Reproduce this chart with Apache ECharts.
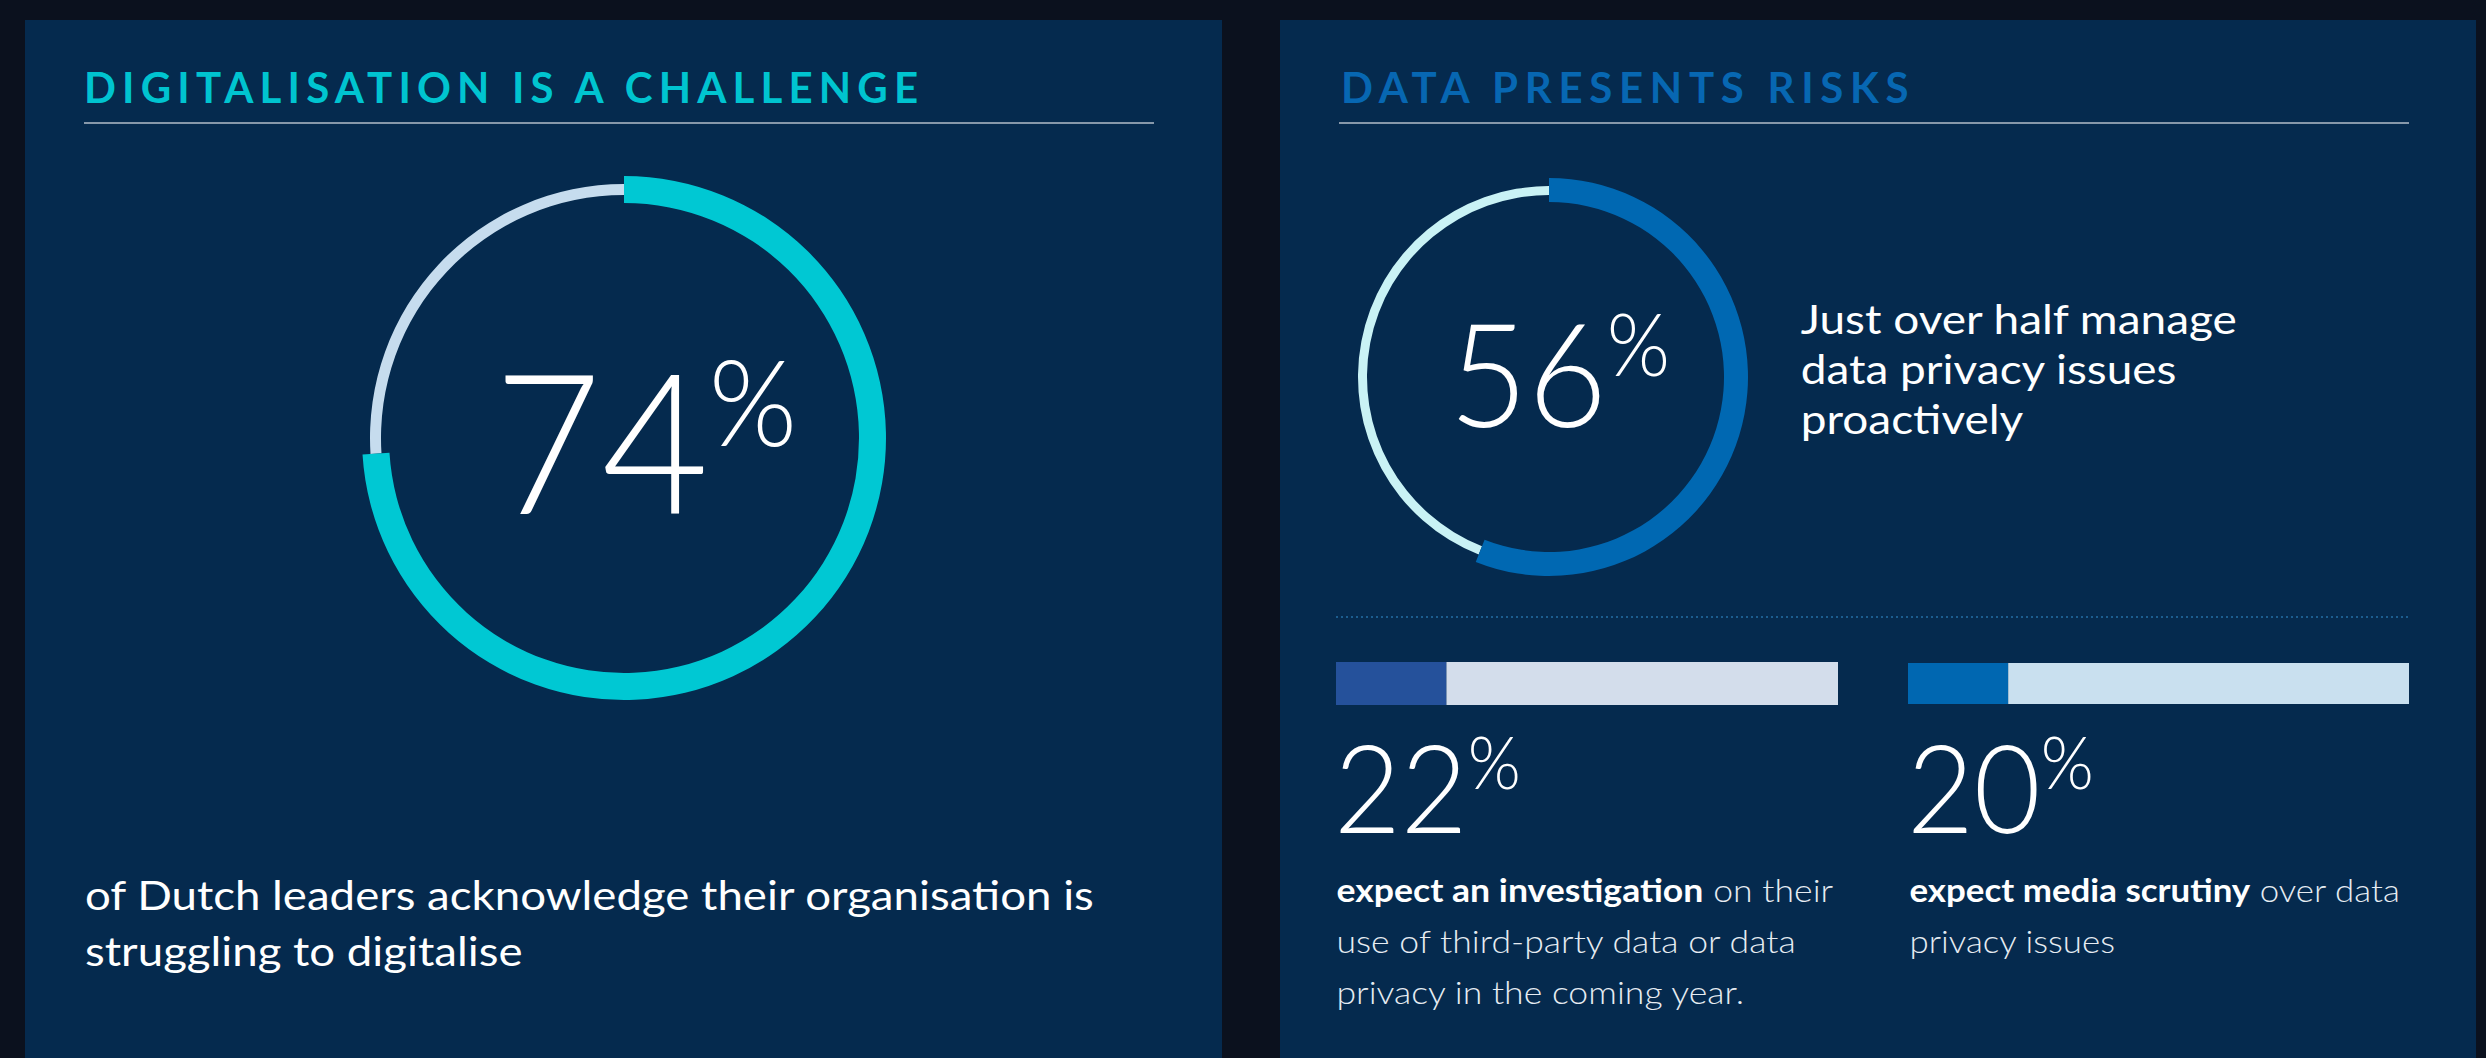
<!DOCTYPE html>
<html>
<head>
<meta charset="utf-8">
<title>Digitalisation and data risks</title>
<script src="https://cdn.jsdelivr.net/npm/echarts@6.0.0/dist/echarts.min.js"></script>
<style>
html, body { margin:0; padding:0; background:#0b111e; overflow:hidden; }
#chart { width:2486px; height:1058px; }
</style>
</head>
<body>
<div id="chart"></div>
<script>
// ---------------- data ----------------
const titles = ['DIGITALISATION IS A CHALLENGE', 'DATA PRESENTS RISKS'];
const donutNames = ['Struggling to digitalise', 'Manage data privacy proactively'];
const donutValues = [74, 56];
const barNames = ['Expect an investigation', 'Expect media scrutiny'];
const barValues = [22, 20];
const total = 100;
const leftCaption = ['of Dutch leaders acknowledge their organisation is', 'struggling to digitalise'];
const rightCaption = ['Just over half manage', 'data privacy issues', 'proactively'];
const barBold = ['expect an investigation', 'expect media scrutiny'];
const barRest = [[' on their', 'use of third-party data or data', 'privacy in the coming year.'], [' over data', 'privacy issues']];

// ---------------- styles ----------------
const FONT = "Lato, 'Noto Sans', 'Open Sans', sans-serif";
const PANEL = '#052a4e';
const titleColors = ['#00c4d0', '#0767b2'];
const titleWidths = [837, 569];

const mctx = document.createElement('canvas').getContext('2d');
function tw(text, font) { mctx.font = font; return mctx.measureText(text).width; }

// letter spacing for the tracked titles (SVG renderer + CSS)
(function () {
  let css = '';
  titles.forEach((t, i) => {
    const w = tw(t, 'bold 42px ' + FONT);
    const ls = Math.max(0, (titleWidths[i] - w) / (t.length - 1));
    css += '#chart text[fill="' + titleColors[i] + '"]{letter-spacing:' + ls.toFixed(2) + 'px;}';
  });
  const st = document.createElement('style');
  st.textContent = css;
  document.head.appendChild(st);
})();

function donutSeries(i, center, thick, thin, colMain, colTrack) {
  const v = donutValues[i], rest = total - v;
  const common = {
    type: 'pie', center: center, startAngle: 90, clockwise: true, silent: true,
    animation: false, avoidLabelOverlap: false,
    label: { show: false }, labelLine: { show: false },
    emphasis: { disabled: true }
  };
  return [
    Object.assign({}, common, {
      name: donutNames[i] + ' track', radius: thin, z: 2,
      data: [
        { name: donutNames[i], value: v, itemStyle: { color: 'transparent' } },
        { name: 'rest', value: rest, itemStyle: { color: colTrack } }
      ]
    }),
    Object.assign({}, common, {
      name: donutNames[i], radius: thick, z: 3,
      data: [
        { name: donutNames[i], value: v, itemStyle: { color: colMain } },
        { name: 'rest', value: rest, itemStyle: { color: 'transparent' } }
      ]
    })
  ];
}

function barSeries(i, colMain, colRest) {
  const common = { type: 'bar', xAxisIndex: i, yAxisIndex: i, stack: 'bar' + i,
    barWidth: '100%', silent: true, animation: false, emphasis: { disabled: true } };
  return [
    Object.assign({}, common, { name: barNames[i], data: [barValues[i]], itemStyle: { color: colMain } }),
    Object.assign({}, common, { name: 'rest', data: [total - barValues[i]], itemStyle: { color: colRest } })
  ];
}

function txt(text, x, y, font, fill, extra, sx) {
  return {
    type: 'text', z: 20, silent: true,
    scaleX: sx || 1, originX: x, originY: y,
    style: Object.assign({
      text: text, x: x, y: y, font: font, fill: fill,
      textAlign: 'left', align: 'left', textVerticalAlign: 'top', verticalAlign: 'top'
    }, extra || {})
  };
}

function bigNumber(v, x, top, fd, ld, fp, lp) {
  return txt('{n|' + v + '}{p|%}', x, top, '300 ' + fd + 'px ' + FONT, '#ffffff', {
    rich: {
      n: { fontSize: fd, fontWeight: 300, fontFamily: FONT, fill: '#ffffff', color: '#ffffff', lineHeight: ld },
      p: { fontSize: fp, fontWeight: 300, fontFamily: FONT, fill: '#ffffff', color: '#ffffff', lineHeight: lp, verticalAlign: 'top' }
    }
  }, 0.945);
}

function caption(lines, x, top, size, lh, targetW) {
  const font = size + 'px ' + FONT;
  const sx = targetW / tw(lines[0], font);
  return txt(lines.join('\n'), x, top, font, '#ffffff', { lineHeight: lh }, sx);
}

function mixedPara(i, x, top, targetW) {
  const rest = barRest[i];
  const fb = 'bold 32px ' + FONT, fl = '300 32px ' + FONT;
  const sx = targetW / (tw(barBold[i], fb) + tw(rest[0], fl));
  const s = '{b|' + barBold[i] + '}{l|' + rest[0] + '}\n' + rest.slice(1).map(r => '{l|' + r + '}').join('\n');
  return txt(s, x, top, '32px ' + FONT, '#ffffff', {
    rich: {
      b: { fontSize: 32, fontWeight: 'bold', fontFamily: FONT, fill: '#ffffff', color: '#ffffff', lineHeight: 51 },
      l: { fontSize: 32, fontWeight: 300, fontFamily: FONT, fill: '#e6ecf2', color: '#e6ecf2', lineHeight: 51 }
    }
  }, sx);
}

const graphic = [
  { type: 'rect', z: -10, silent: true, shape: { x: 25, y: 20, width: 1197, height: 1038 }, style: { fill: PANEL } },
  { type: 'rect', z: -10, silent: true, shape: { x: 1280, y: 20, width: 1196, height: 1038 }, style: { fill: PANEL } },
  txt(titles[0], 84, 87, 'bold 42px ' + FONT, titleColors[0], { textVerticalAlign: 'middle', verticalAlign: 'middle' }),
  txt(titles[1], 1341, 87, 'bold 42px ' + FONT, titleColors[1], { textVerticalAlign: 'middle', verticalAlign: 'middle' }),
  { type: 'line', z: 20, silent: true, shape: { x1: 84, y1: 123, x2: 1154, y2: 123 }, style: { stroke: '#8798aa', lineWidth: 2 } },
  { type: 'line', z: 20, silent: true, shape: { x1: 1339, y1: 123, x2: 2409, y2: 123 }, style: { stroke: '#8798aa', lineWidth: 2 } },
  { type: 'line', z: 20, silent: true, shape: { x1: 1336, y1: 617, x2: 2408, y2: 617 }, style: { stroke: '#1c5d8f', lineWidth: 2, lineDash: [2, 3] } },
  bigNumber(donutValues[0], 494, 340, 196, 196, 120, 113),
  bigNumber(donutValues[1], 1449, 300, 144, 144, 86, 80),
  bigNumber(barValues[0], 1334, 725, 122, 122, 72, 104),
  bigNumber(barValues[1], 1907, 725, 122, 122, 72, 104),
  caption(leftCaption, 85, 866, 41, 56, 1011),
  caption(rightCaption, 1801, 293, 41, 50, 438),
  mixedPara(0, 1337, 864, 497),
  mixedPara(1, 1909, 864, 491)
];

const option = {
  backgroundColor: '#0b111e',
  animation: false,
  grid: [
    { left: 1336, top: 662, width: 502, height: 43 },
    { left: 1908, top: 663, width: 501, height: 41 }
  ],
  xAxis: [
    { gridIndex: 0, type: 'value', min: 0, max: total, show: false },
    { gridIndex: 1, type: 'value', min: 0, max: total, show: false }
  ],
  yAxis: [
    { gridIndex: 0, type: 'category', data: [barNames[0]], show: false },
    { gridIndex: 1, type: 'category', data: [barNames[1]], show: false }
  ],
  graphic: graphic,
  series: [].concat(
    donutSeries(0, [624, 438], [235, 262], [243, 254], '#00c8d3', '#c6dcee'),
    donutSeries(1, [1549, 377], [175, 199], [182, 191], '#0068b2', '#c9f2f5'),
    barSeries(0, '#25519b', '#d3ddeb'),
    barSeries(1, '#0067b1', '#c9e0ef')
  )
};

const chart = echarts.init(document.getElementById('chart'), null, { renderer: 'svg', width: 2486, height: 1058 });
chart.setOption(option);
</script>
</body>
</html>
